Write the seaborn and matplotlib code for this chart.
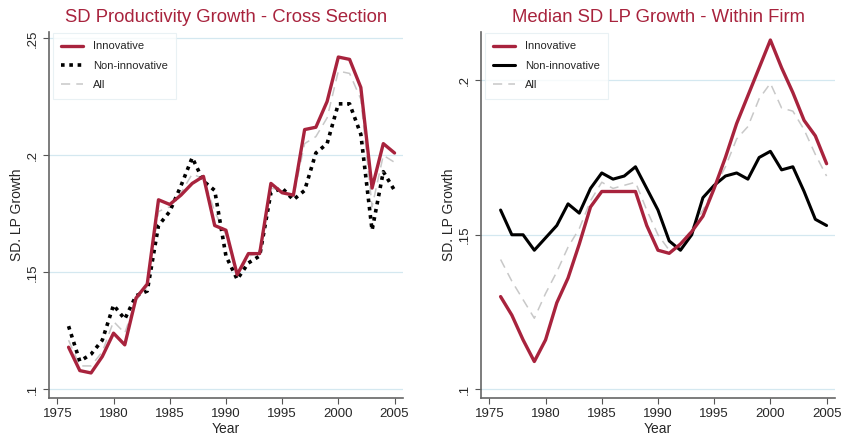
import numpy as np
import pandas as pd
import seaborn as sns
import matplotlib.pyplot as plt

years = list(range(1976, 2006))

# Left panel: SD of productivity growth, cross section
cs_innov = [0.118, 0.108, 0.107, 0.114, 0.124, 0.119, 0.139, 0.145, 0.181, 0.179,
            0.183, 0.188, 0.191, 0.170, 0.168, 0.149, 0.158, 0.158, 0.188, 0.184,
            0.183, 0.211, 0.212, 0.223, 0.242, 0.241, 0.229, 0.186, 0.205, 0.201]
cs_noninnov = [0.127, 0.112, 0.115, 0.121, 0.136, 0.130, 0.140, 0.142, 0.170, 0.176,
               0.187, 0.199, 0.189, 0.185, 0.157, 0.147, 0.154, 0.157, 0.184, 0.186,
               0.181, 0.185, 0.201, 0.205, 0.222, 0.222, 0.209, 0.168, 0.193, 0.185]
cs_all = [0.121, 0.110, 0.110, 0.116, 0.129, 0.124, 0.138, 0.144, 0.176, 0.178,
          0.184, 0.192, 0.190, 0.176, 0.166, 0.148, 0.157, 0.158, 0.186, 0.185,
          0.182, 0.205, 0.208, 0.216, 0.236, 0.235, 0.224, 0.178, 0.200, 0.197]

# Right panel: median SD of LP growth, within firm
wf_innov = [0.130, 0.124, 0.116, 0.109, 0.116, 0.128, 0.136, 0.147, 0.159, 0.164,
            0.164, 0.164, 0.164, 0.153, 0.145, 0.144, 0.147, 0.151, 0.156, 0.165,
            0.175, 0.186, 0.195, 0.204, 0.213, 0.204, 0.196, 0.187, 0.182, 0.173]
wf_noninnov = [0.158, 0.150, 0.150, 0.145, 0.149, 0.153, 0.160, 0.157, 0.165, 0.170,
               0.168, 0.169, 0.172, 0.165, 0.158, 0.148, 0.145, 0.150, 0.162, 0.166,
               0.169, 0.170, 0.168, 0.175, 0.177, 0.171, 0.172, 0.164, 0.155, 0.153]
wf_all = [0.142, 0.135, 0.129, 0.123, 0.131, 0.138, 0.146, 0.152, 0.161, 0.167,
          0.165, 0.166, 0.167, 0.158, 0.150, 0.145, 0.146, 0.152, 0.158, 0.165,
          0.172, 0.181, 0.185, 0.194, 0.199, 0.191, 0.190, 0.184, 0.176, 0.169]

red = "#a8233d"
grid_blue = "#d4e8f0"

sns.set_style("white")
plt.rcParams["font.family"] = ["Liberation Sans", "DejaVu Sans"]

fig = plt.figure(figsize=(8.42, 4.36), dpi=100)
ax1 = fig.add_axes([0.0582, 0.0872, 0.4204, 0.8394])
ax2 = fig.add_axes([0.5713, 0.0872, 0.4204, 0.8394])


def panel(ax, innov, non, allv, non_style, title, yticks, ylabels, ylim):
    df = pd.DataFrame({"year": years, "innov": innov, "non": non, "all": allv})
    for t in yticks:
        ax.axhline(t, color=grid_blue, lw=0.9, zorder=0)
    sns.lineplot(data=df, x="year", y="all", ax=ax, color="#c8c8c8", lw=1.1,
                 linestyle=(0, (6, 4)), label="All", zorder=2)
    if non_style == "dotted":
        sns.lineplot(data=df, x="year", y="non", ax=ax, color="black", lw=2.6,
                     linestyle=(0, (1, 1.3)), label="Non-innovative", zorder=3)
    else:
        sns.lineplot(data=df, x="year", y="non", ax=ax, color="black", lw=2.2,
                     label="Non-innovative", zorder=3)
    sns.lineplot(data=df, x="year", y="innov", ax=ax, color=red, lw=2.4,
                 label="Innovative", zorder=4)

    ax.set_xlim(1974.26, 2005.75)
    ax.set_ylim(*ylim)
    ax.set_xticks(range(1975, 2006, 5))
    ax.set_yticks(yticks)
    ax.set_yticklabels(ylabels, rotation=90, va="center")
    ax.tick_params(axis="both", labelsize=9.5, length=4, color="#555555",
                   direction="out", left=True, bottom=True)
    ax.set_xlabel("Year", fontsize=10, labelpad=1)
    ax.set_ylabel("SD. LP Growth", fontsize=10, labelpad=2)
    ax.set_title(title, color=red, fontsize=13.3, pad=7)
    for s in ["top", "right"]:
        ax.spines[s].set_visible(False)
    for s in ["left", "bottom"]:
        ax.spines[s].set_color("#666666")
        ax.spines[s].set_linewidth(1.2)

    h, l = ax.get_legend_handles_labels()
    order = [l.index("Innovative"), l.index("Non-innovative"), l.index("All")]
    leg = ax.legend([h[i] for i in order], [l[i] for i in order],
                    loc="upper left", bbox_to_anchor=(0.01, 0.997), fontsize=8,
                    frameon=True, fancybox=False, edgecolor="#e4eef2",
                    handlelength=2.0, handletextpad=0.9, labelspacing=0.85,
                    borderpad=0.75, borderaxespad=0.0)
    leg.get_frame().set_linewidth(0.8)


panel(ax1, cs_innov, cs_noninnov, cs_all, "dotted",
      "SD Productivity Growth - Cross Section",
      [0.1, 0.15, 0.2, 0.25], [".1", ".15", ".2", ".25"], (0.0963, 0.2527))
panel(ax2, wf_innov, wf_noninnov, wf_all, "solid",
      "Median SD LP Growth - Within Firm",
      [0.1, 0.15, 0.2], [".1", ".15", ".2"], (0.0972, 0.2156))

fig.savefig("out.png", dpi=100)
